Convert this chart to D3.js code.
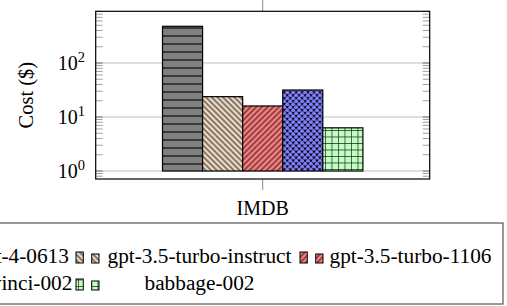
<!DOCTYPE html>
<html>
<head>
<meta charset="utf-8">
<script src="https://cdn.jsdelivr.net/npm/d3@7"></script>
<style>
  body { margin: 0; background: #fff; }
</style>
</head>
<body>
<script>
var width = 507;
var height = 306;
var serif = "'Liberation Serif', 'DejaVu Serif', serif";

// data
var categories = ["IMDB"];
var series = ["gpt-4-0613", "gpt-3.5-turbo-instruct", "gpt-3.5-turbo-1106", "davinci-002", "babbage-002"];
var costs = [478, 23.8, 16, 31.6, 6.3];
var majorTicks = [1, 10, 100];

var fills = ["#808080", "#f0dbc4", "#ff8080", "#8080ff", "#bfffbf"];
var patternIds = ["hlines", "nwlines", "nelines", "xdots", "grid"];

var frame = { left: 95.7, right: 429.7, top: 11.3, bottom: 179 };

var svg = d3.select("body")
    .append("svg")
    .attr("width", width)
    .attr("height", height)
    .style("font-family", serif);

var defs = svg.append("defs");

function basePattern(id, w, h, fill, rot) {
    var p = defs.append("pattern")
        .attr("id", id)
        .attr("patternUnits", "userSpaceOnUse")
        .attr("width", w)
        .attr("height", h);
    if (rot) p.attr("patternTransform", "rotate(" + rot + ")");
    p.append("rect").attr("width", w).attr("height", h).attr("fill", fill);
    return p;
}

// horizontal lines
var p0 = basePattern("hlines", 8, 8, fills[0]);
p0.append("line").attr("x1", 0).attr("x2", 8).attr("y1", 4).attr("y2", 4)
    .attr("stroke", "#000").attr("stroke-width", 1.1);

// north west lines
var p1 = basePattern("nwlines", 4, 4, fills[1], -45);
p1.append("line").attr("x1", 2).attr("x2", 2).attr("y1", 0).attr("y2", 4)
    .attr("stroke", "#000").attr("stroke-width", 0.9);

// north east lines
var p2 = basePattern("nelines", 4, 4, fills[2], 45);
p2.append("line").attr("x1", 2).attr("x2", 2).attr("y1", 0).attr("y2", 4)
    .attr("stroke", "#000").attr("stroke-width", 0.9);

// crosshatch dots
var p3 = basePattern("xdots", 4.2, 4.2, fills[3], 45);
p3.append("line").attr("x1", 0).attr("x2", 4.2).attr("y1", 0).attr("y2", 0)
    .attr("stroke", "#000").attr("stroke-width", 0.9);
p3.append("line").attr("x1", 0).attr("x2", 0).attr("y1", 0).attr("y2", 4.2)
    .attr("stroke", "#000").attr("stroke-width", 0.9);
p3.selectAll("circle").data([[0, 0], [4.2, 0], [0, 4.2], [4.2, 4.2]]).enter()
    .append("circle").attr("cx", function(d) { return d[0]; }).attr("cy", function(d) { return d[1]; })
    .attr("r", 1.1).attr("fill", "#000");

// grid
var p4 = basePattern("grid", 6.5, 6.5, fills[4]);
p4.append("path").attr("d", "M0,0H6.5M0,0V6.5")
    .attr("stroke", "#1a1a1a").attr("stroke-width", 1.3).attr("fill", "none");

// scales
var y = d3.scaleLog()
    .domain([0.711, 906])
    .range([frame.bottom, frame.top]);

var x0 = d3.scaleBand()
    .domain(categories)
    .range([frame.left, frame.right])
    .paddingInner(0)
    .paddingOuter(1 / 3);

var x1 = d3.scaleBand()
    .domain(series)
    .range([0, x0.bandwidth()]);

// grid lines
svg.append("g").selectAll("line")
    .data(majorTicks)
    .enter().append("line")
    .attr("x1", frame.left).attr("x2", frame.right)
    .attr("y1", function(d) { return y(d); })
    .attr("y2", function(d) { return y(d); })
    .attr("stroke", "#d4d4d4")
    .attr("stroke-width", 1.6);

// minor + major ticks on left and right, inside the frame
var allTicks = y.ticks();
var ticksG = svg.append("g");
[frame.left, frame.right].forEach(function(xe, i) {
    var dir = i === 0 ? 1 : -1;
    ticksG.selectAll(".t" + i)
        .data(allTicks)
        .enter().append("line")
        .attr("class", "t" + i)
        .attr("x1", xe).attr("x2", xe + dir * 7)
        .attr("y1", function(d) { return y(d); })
        .attr("y2", function(d) { return y(d); })
        .attr("stroke", function(d) { return majorTicks.indexOf(d) >= 0 ? "#909090" : "#a0a0a0"; })
        .attr("stroke-width", function(d) { return majorTicks.indexOf(d) >= 0 ? 1.4 : 1; });
});

// x tick marks outside the frame
categories.forEach(function(c) {
    var cx = x0(c) + x0.bandwidth() / 2;
    svg.append("line").attr("x1", cx).attr("x2", cx).attr("y1", 0).attr("y2", frame.top)
        .attr("stroke", "#888").attr("stroke-width", 1);
    svg.append("line").attr("x1", cx).attr("x2", cx).attr("y1", frame.bottom).attr("y2", frame.bottom + 11)
        .attr("stroke", "#888").attr("stroke-width", 1);
});

// bars
var groups = svg.append("g").selectAll("g")
    .data(categories)
    .enter().append("g")
    .attr("transform", function(d) { return "translate(" + x0(d) + ",0)"; });

groups.selectAll("rect")
    .data(function() {
        return series.map(function(s, i) { return { name: s, value: costs[i], idx: i }; });
    })
    .enter().append("rect")
    .attr("x", function(d) { return x1(d.name); })
    .attr("width", x1.bandwidth())
    .attr("y", function(d) { return y(d.value); })
    .attr("height", function(d) { return y(1) - y(d.value); })
    .attr("fill", function(d) { return "url(#" + patternIds[d.idx] + ")"; })
    .attr("stroke", "#000")
    .attr("stroke-width", 1.2);

// frame
svg.append("rect")
    .attr("x", frame.left).attr("y", frame.top)
    .attr("width", frame.right - frame.left)
    .attr("height", frame.bottom - frame.top)
    .attr("fill", "none")
    .attr("stroke", "#000")
    .attr("stroke-width", 1.2);

// y tick labels 10^n
var labels = svg.append("g").selectAll("text")
    .data(majorTicks)
    .enter().append("text")
    .attr("x", 85)
    .attr("y", function(d) { return y(d) + 7; })
    .attr("text-anchor", "end")
    .attr("font-family", serif)
    .style("font-size", "20px");
labels.append("tspan").text("10");
labels.append("tspan")
    .attr("dy", -8)
    .style("font-size", "14.5px")
    .text(function(d) { return Math.round(Math.log10(d)); });

// y axis title
svg.append("text")
    .attr("transform", "translate(33," + ((frame.top + frame.bottom) / 2) + ") rotate(-90)")
    .attr("text-anchor", "middle")
    .attr("font-family", serif)
    .style("font-size", "20.5px")
    .text("Cost ($)");

// x category label
svg.append("g").selectAll("text")
    .data(categories)
    .enter().append("text")
    .attr("x", function(d) { return x0(d) + x0.bandwidth() / 2; })
    .attr("y", 215)
    .attr("text-anchor", "middle")
    .attr("font-family", serif)
    .style("font-size", "20px")
    .text(function(d) { return d; });

// legend (3 columns, wraps onto a second row, left part cut off as in the reference)
var legTextCenter = [21.5, 199.5, 410.5];
var legIconX = [-60, 76, 300];
var legRowY = [263, 290];

svg.append("rect")
    .attr("x", -120).attr("y", 223)
    .attr("width", 503 + 120).attr("height", 81)
    .attr("fill", "#fff")
    .attr("stroke", "#555")
    .attr("stroke-width", 1.2);

var leg = svg.append("g").selectAll("g")
    .data(series)
    .enter().append("g");

leg.each(function(s, i) {
    var g = d3.select(this);
    var col = i % 3, row = Math.floor(i / 3);
    var base = legRowY[row];
    var ix = legIconX[col];
    g.append("rect").attr("x", ix).attr("y", base - 11).attr("width", 7.3).attr("height", 11)
        .attr("fill", "url(#" + patternIds[i] + ")").attr("stroke", "#000").attr("stroke-width", 1);
    g.append("rect").attr("x", ix + 15.7).attr("y", base - 9).attr("width", 7.3).attr("height", 9)
        .attr("fill", "url(#" + patternIds[i] + ")").attr("stroke", "#000").attr("stroke-width", 1);
    g.append("text")
        .attr("x", legTextCenter[col])
        .attr("y", base)
        .attr("text-anchor", "middle")
        .attr("font-family", serif)
        .style("font-size", "21.3px")
        .text(s);
});
</script>
</body>
</html>
